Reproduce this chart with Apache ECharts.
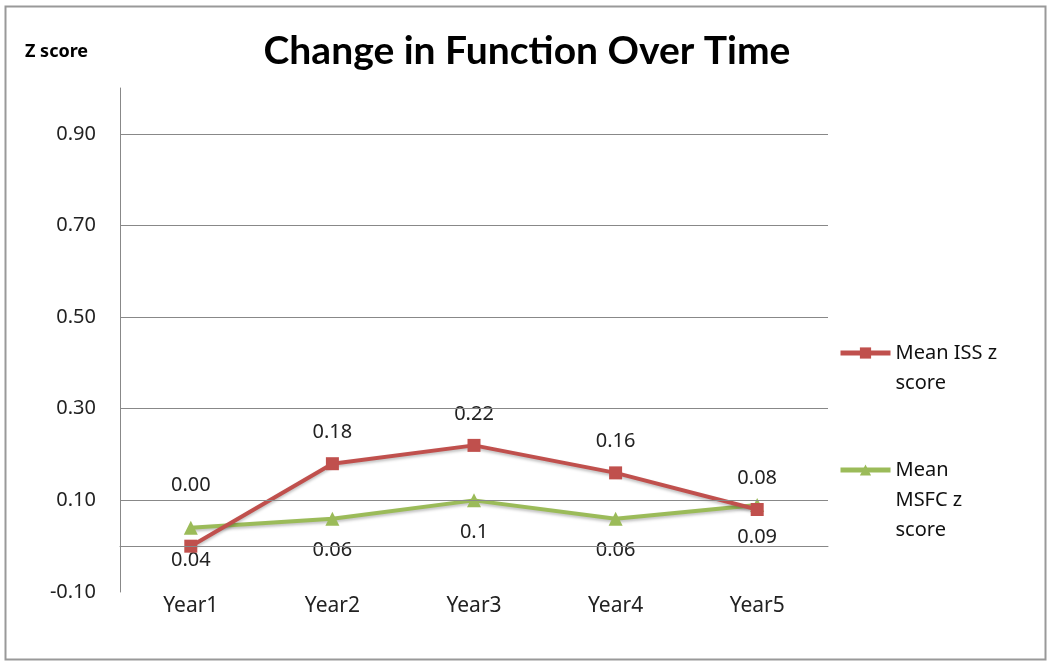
<!DOCTYPE html>
<html>
<head>
<meta charset="utf-8">
<script src="https://cdn.jsdelivr.net/npm/echarts@6/dist/echarts.min.js"></script>
<style>
html,body{margin:0;padding:0;background:#fff;}
#chart{width:1050px;height:661px;}
</style>
</head>
<body>
<div id="chart"></div>
<script>
const categories = ['Year1', 'Year2', 'Year3', 'Year4', 'Year5'];
const issValues = [0.00, 0.18, 0.22, 0.16, 0.08];
const msfcValues = [0.04, 0.06, 0.1, 0.06, 0.09];
const gridValues = [0.0, 0.1, 0.3, 0.5, 0.7, 0.9];
const labeledTicks = ['-0.10', '0.10', '0.30', '0.50', '0.70', '0.90'];
const seriesNames = ['Mean ISS z score', 'Mean MSFC z score'];
const legendLines = [['Mean ISS z', 'score'], ['Mean', 'MSFC z', 'score']];

const RED = '#C0504D';
const GREEN = '#9BBB59';
const FONT = '"Noto Sans", sans-serif';

// blank lines placed before the text so the first line sits level with the legend icon
const legendText = lines => '\n'.repeat(lines.length - 1) + lines.join('\n');

const chart = echarts.init(document.getElementById('chart'));

const issData = issValues.map((v, i) => i === 0 ? {value: v, label: {offset: [0, -29]}} : v);

const legendCommon = {
  padding: 0, itemWidth: 50, itemHeight: 14,
  lineStyle: {width: 5},
  textStyle: {fontFamily: FONT, fontSize: 20, lineHeight: 30, color: '#111'}
};

chart.setOption({
  animation: false,
  backgroundColor: '#fff',
  graphic: [{
    type: 'rect', left: 3, top: 4, silent: true,
    shape: {width: 1040, height: 653},
    style: {fill: 'none', stroke: '#999', lineWidth: 2}
  }],
  title: [{
    text: 'Change in Function Over Time',
    left: 522, top: 27, textAlign: 'center',
    textStyle: {fontFamily: 'Lato, sans-serif', fontWeight: 'bold', fontSize: 39, color: '#000'}
  }, {
    text: 'Z score', left: 20, top: 38,
    textStyle: {fontFamily: FONT, fontWeight: 'bold', fontSize: 18, color: '#000'}
  }],
  legend: [Object.assign({
    data: [seriesNames[0]], left: 838, top: 308,
    formatter: () => legendText(legendLines[0])
  }, legendCommon), Object.assign({
    data: [seriesNames[1]], left: 838, top: 395,
    formatter: () => legendText(legendLines[1])
  }, legendCommon)],
  grid: {left: 120, right: 222, top: 88, bottom: 69},
  xAxis: {
    type: 'category', data: categories, boundaryGap: true,
    axisLine: {show: true, lineStyle: {color: '#888', width: 1}},
    axisTick: {show: false},
    axisLabel: {fontFamily: FONT, fontSize: 21, color: '#222', margin: 4}
  },
  yAxis: {
    type: 'value', min: -0.1, max: 1.0, interval: 0.1,
    axisLine: {show: true, lineStyle: {color: '#888', width: 1}},
    axisTick: {show: false},
    splitLine: {show: false},
    axisLabel: {
      fontFamily: FONT, fontSize: 20, color: '#222', margin: 24,
      formatter: v => {
        const s = (Math.round(v * 100) / 100).toFixed(2);
        return labeledTicks.indexOf(s) >= 0 ? s : '';
      }
    }
  },
  series: [{
    name: seriesNames[0], type: 'line', data: issData,
    symbol: 'rect', symbolSize: 13,
    lineStyle: {color: RED, width: 4, shadowColor: 'rgba(0,0,0,0.25)', shadowBlur: 3, shadowOffsetY: 2},
    itemStyle: {color: RED},
    z: 3,
    label: {
      show: true, position: 'top', distance: 15,
      fontFamily: FONT, fontSize: 20, color: '#222',
      formatter: p => Number(p.value).toFixed(2)
    },
    markLine: {
      silent: true, symbol: 'none', label: {show: false},
      lineStyle: {color: '#888', width: 1, type: 'solid'},
      data: gridValues.map(v => ({yAxis: v}))
    }
  }, {
    name: seriesNames[1], type: 'line', data: msfcValues,
    symbol: 'triangle', symbolSize: 14,
    lineStyle: {color: GREEN, width: 4, shadowColor: 'rgba(0,0,0,0.25)', shadowBlur: 3, shadowOffsetY: 2},
    itemStyle: {color: GREEN},
    z: 2,
    label: {
      show: true, position: 'bottom', distance: 15,
      fontFamily: FONT, fontSize: 20, color: '#222',
      formatter: p => String(p.value)
    }
  }]
});
</script>
</body>
</html>
